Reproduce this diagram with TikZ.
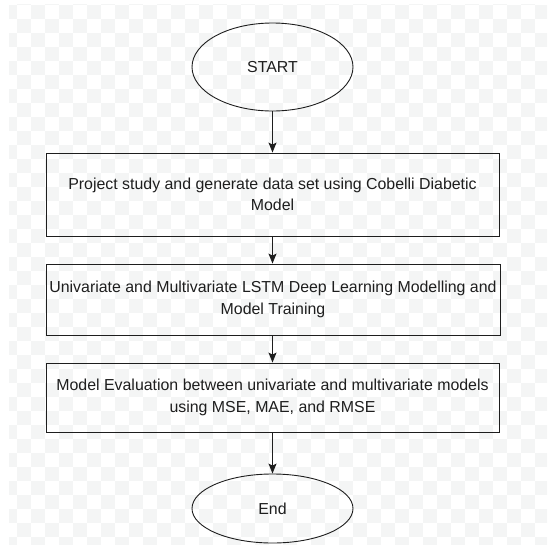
\documentclass[tikz,border=0pt]{standalone}
\usepackage{fontspec}
\setmainfont{Liberation Sans}
\usetikzlibrary{shapes.geometric,arrows.meta}
\definecolor{chk}{HTML}{F4F5F5}
\definecolor{ink}{HTML}{1E1E1E}
\tikzset{
  term/.style={ellipse,draw=ink,line width=0.9pt,inner sep=0pt,minimum width=161pt,text=ink,font=\fontsize{15.9}{21.5}\selectfont},
  procbox/.style={rectangle,draw=ink,line width=0.9pt,inner sep=0pt,align=center,text=ink,font=\fontsize{15.9}{21.5}\selectfont},
  flow/.style={draw=ink,line width=0.9pt,-{Stealth[length=10pt,width=8pt,inset=2pt]}}
}
\begin{document}
\begin{tikzpicture}[x=1pt,y=-1pt]
\useasboundingbox (0,0) rectangle (549,544);
\begin{scope}
\clip (9,4) rectangle (547,544);
\foreach \c in {0,...,39}{
  \foreach \r in {0,...,39}{
    \pgfmathtruncatemacro{\odd}{mod(\c+\r,2)}
    \ifnum\odd=1
      \fill[chk] ({2.7+14*\c},{-8.7+14*\r}) rectangle ++(14,14);
    \fi
  }
}
\end{scope}
\node[term,minimum height=88pt] (start) at (272.5,67) {START};
\node[procbox,minimum width=453pt,minimum height=83pt] (b1) at (272.5,194.5)
  {Project study and generate data set using Cobelli Diabetic\\Model};
\node[procbox,minimum width=454pt,minimum height=71pt] (b2) at (273,299.5)
  {Univariate and Multivariate LSTM Deep Learning Modelling and\\Model Training};
\node[procbox,minimum width=453pt,minimum height=69pt] (b3) at (272.5,397.5)
  {Model Evaluation between univariate and multivariate models\\using MSE, MAE, and RMSE};
\node[term,minimum height=69pt] (end) at (272.5,508.5) {End};
\draw[flow] (start.south) -- (b1.north -| start.south);
\draw[flow] (b1.south -| start.south) -- (b2.north -| start.south);
\draw[flow] (b2.south -| start.south) -- (b3.north -| start.south);
\draw[flow] (b3.south -| start.south) -- (end.north);
\end{tikzpicture}
\end{document}
